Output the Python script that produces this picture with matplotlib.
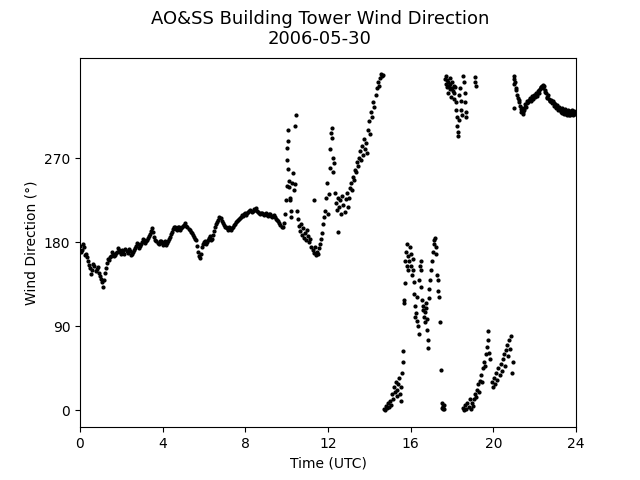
import numpy as np
import matplotlib
matplotlib.use("Agg")
import matplotlib.pyplot as plt

morning_hour = [0.0, 0.1, 0.2, 0.3, 0.4, 0.5, 0.6, 0.7, 0.8, 0.9,
                1.0, 1.1, 1.2, 1.3, 1.4, 1.5, 1.6, 1.7, 1.8, 1.9,
                2.0, 2.1, 2.2, 2.3, 2.4, 2.5, 2.6, 2.7, 2.8, 2.9,
                3.0, 3.1, 3.2, 3.3, 3.4, 3.5, 3.6, 3.7, 3.8, 3.9,
                4.0, 4.1, 4.2, 4.3, 4.4, 4.5, 4.6, 4.7, 4.8, 4.9,
                5.0, 5.1, 5.2, 5.3, 5.4, 5.5, 5.6, 5.7, 5.8, 5.9,
                6.0, 6.1, 6.2, 6.3, 6.4, 6.5, 6.6, 6.7, 6.8, 6.9,
                7.0, 7.1, 7.2, 7.3, 7.4, 7.5, 7.6, 7.7, 7.8, 7.9,
                8.0, 8.1, 8.2, 8.3, 8.4, 8.5, 8.6, 8.7, 8.8, 8.9,
                9.0, 9.1, 9.2, 9.3, 9.4, 9.5, 9.6, 9.7, 9.8]
morning_dir = [176, 172, 175, 168, 160, 153, 150, 155, 151, 147,
               141, 132, 147, 158, 161, 165, 168, 166, 170, 172,
               168, 171, 173, 169, 171, 168, 172, 176, 178, 176,
               180, 183, 181, 185, 189, 195, 186, 181, 178, 181,
               177, 182, 179, 184, 189, 194, 196, 193, 197, 195,
               198, 201, 196, 193, 190, 186, 183, 170, 163, 175,
               180, 178, 183, 187, 184, 192, 200, 204, 206, 201,
               197, 195, 196, 193, 197, 200, 203, 205, 207, 208,
               211, 212, 214, 213, 216, 217, 213, 210, 212, 209,
               211, 208, 210, 207, 209, 205, 203, 199, 196]

# in-between readings that give the morning trace its width
morning_half_hour = [0.05, 0.15, 0.25, 0.35, 0.45, 0.55, 0.65, 0.75, 0.85, 0.95,
                     1.05, 1.15, 1.25, 1.35, 1.45, 1.55, 1.65, 1.75, 1.85, 1.95,
                     2.05, 2.15, 2.25, 2.35, 2.45, 2.55, 2.65, 2.75, 2.85, 2.95,
                     3.05, 3.15, 3.25, 3.35, 3.45, 3.55, 3.65, 3.75, 3.85, 3.95,
                     4.05, 4.15, 4.25, 4.35, 4.45, 4.55, 4.65, 4.75, 4.85, 4.95,
                     5.05, 5.15, 5.25, 5.35, 5.45, 5.55, 5.65, 5.75, 5.85, 5.95,
                     6.05, 6.15, 6.25, 6.35, 6.45, 6.55, 6.65, 6.75, 6.85, 6.95,
                     7.05, 7.15, 7.25, 7.35, 7.45, 7.55, 7.65, 7.75, 7.85, 7.95,
                     8.05, 8.15, 8.25, 8.35, 8.45, 8.55, 8.65, 8.75, 8.85, 8.95,
                     9.05, 9.15, 9.25, 9.35, 9.45, 9.55, 9.65, 9.75]
morning_half_dir = [170, 178, 166, 164, 156, 146, 157, 149, 154, 144,
                    138, 140, 153, 162, 164, 170, 165, 169, 174, 170,
                    172, 168, 171, 173, 167, 170, 174, 179, 174, 178,
                    184, 179, 183, 187, 192, 191, 183, 179, 182, 179,
                    180, 177, 182, 186, 191, 197, 194, 196, 193, 197,
                    199, 198, 194, 191, 188, 184, 176, 165, 168, 178,
                    182, 180, 185, 183, 188, 197, 202, 207, 203, 199,
                    196, 193, 195, 195, 199, 202, 204, 206, 209, 210,
                    209, 213, 215, 214, 215, 214, 211, 212, 210, 210,
                    209, 210, 208, 208, 207, 204, 201, 197]

midday_hour = [9.85, 9.9, 9.95, 10.0, 10.0, 10.02, 10.05, 10.05, 10.08, 10.1,
               10.12, 10.15, 10.17, 10.2, 10.2, 10.25, 10.3, 10.35, 10.4, 10.45,
               10.42, 10.5, 10.55, 10.6, 10.65, 10.7, 10.75, 10.8, 10.85, 10.9,
               10.95, 11.0, 11.05, 11.1, 11.15, 11.2, 11.25, 11.3, 11.3, 11.35,
               11.4, 11.45, 11.5, 11.55, 11.6, 11.65, 11.7, 11.75, 11.8, 11.85,
               11.9, 11.95, 12.0, 12.05, 12.1, 12.12, 12.15, 12.18, 12.2, 12.22,
               12.25, 12.3, 12.35, 12.4, 12.45, 12.5, 12.5, 12.55, 12.6, 12.65,
               12.7, 12.75, 12.8, 12.85, 12.9, 12.95, 13.0, 13.05, 13.1, 13.15,
               13.2, 13.25, 13.3, 13.35, 13.4, 13.45, 13.5, 13.55, 13.6, 13.65,
               13.7, 13.75, 13.8, 13.85, 13.9, 13.95, 14.0, 14.05, 14.1, 14.15,
               14.2, 14.25, 14.3, 14.35, 14.4, 14.45, 14.5, 14.55, 14.6, 14.65]
midday_dir = [201, 210, 225, 240, 268, 281, 289, 300, 259, 246,
              239, 228, 225, 214, 207, 244, 254, 236, 305, 316,
              243, 214, 205, 198, 192, 200, 188, 195, 185, 190,
              183, 193, 187, 180, 184, 175, 172, 225, 169, 175,
              166, 170, 168, 174, 178, 184, 190, 200, 207, 214,
              228, 244, 210, 232, 260, 280, 297, 303, 292, 255,
              270, 265, 233, 222, 215, 228, 191, 218, 225, 210,
              230, 220, 213, 226, 233, 218, 228, 238, 244, 236,
              250, 247, 258, 255, 266, 262, 270, 278, 268, 283,
              274, 291, 280, 287, 276, 300, 310, 296, 320, 314,
              330, 325, 338, 345, 352, 348, 356, 360, 358, 359]

afternoon_hour = [14.7, 14.75, 14.8, 14.85, 14.9, 14.95, 15.0, 15.05, 15.1, 15.15,
                  15.2, 15.25, 15.3, 15.32, 15.35, 15.4, 15.45, 15.5, 15.52, 15.55,
                  15.6, 15.62, 15.65, 15.68, 15.7, 15.72, 15.75, 15.78, 15.8, 15.82,
                  15.85, 15.88, 15.9, 15.95, 16.0, 16.02, 16.05, 16.1, 16.12, 16.15,
                  16.18, 16.2, 16.22, 16.25, 16.3, 16.32, 16.35, 16.38, 16.4, 16.45,
                  16.48, 16.5, 16.52, 16.55, 16.6, 16.62, 16.65, 16.68, 16.7, 16.72,
                  16.75, 16.78, 16.8, 16.82, 16.85, 16.88, 16.9, 16.95, 17.0, 17.05,
                  17.1, 17.12, 17.15, 17.2, 17.22, 17.25, 17.28, 17.3, 17.32, 17.35,
                  17.4, 17.45, 17.5, 17.52, 17.55, 17.58, 17.6, 17.62]
afternoon_dir = [2, 0, 5, 3, 8, 4, 10, 6, 18, 12,
                 25, 20, 30, 15, 22, 28, 35, 18, 10, 25,
                 40, 52, 64, 115, 118, 136, 160, 170, 155, 178,
                 165, 150, 160, 175, 168, 155, 145, 162, 150, 138,
                 125, 112, 100, 104, 96, 122, 90, 82, 140, 155,
                 160, 150, 132, 118, 108, 112, 100, 95, 105, 115,
                 110, 98, 86, 75, 67, 120, 130, 140, 150, 160,
                 170, 178, 183, 185, 175, 168, 145, 140, 128, 122,
                 95, 43, 8, 3, 5, 1, 6, 2]

north_hour = [17.65, 17.7, 17.72, 17.75, 17.78, 17.8, 17.82, 17.85, 17.88, 17.9,
              17.92, 17.95, 18.0, 18.02, 18.05, 18.08, 18.1, 18.12, 18.15, 18.18,
              18.2, 18.22, 18.25, 18.27, 18.3, 18.32, 18.35, 18.4, 18.42, 18.45,
              18.48, 18.55, 18.6, 18.62, 18.65, 18.68, 18.7, 19.1, 19.12, 19.15]
north_dir = [355, 358, 350, 346, 354, 340, 352, 348, 356, 344,
             350, 336, 345, 352, 342, 348, 334, 340, 346, 330,
             322, 314, 305, 298, 294, 311, 338, 345, 332, 322,
             316, 358, 352, 340, 330, 320, 314, 357, 352, 348]

evening_low_hour = [18.55, 18.6, 18.65, 18.7, 18.75, 18.8, 18.85, 18.9, 18.95, 19.0,
                    19.05, 19.1, 19.15, 19.2, 19.25, 19.3, 19.35, 19.4, 19.45, 19.5,
                    19.55, 19.6, 19.65, 19.7, 19.72, 19.75, 19.8, 19.85, 19.95, 20.0,
                    20.05, 20.1, 20.15, 20.2, 20.25, 20.3, 20.35, 20.4, 20.45, 20.5,
                    20.55, 20.6, 20.65, 20.7, 20.75, 20.8, 20.85, 20.9, 20.95]
evening_low_dir = [3, 0, 6, 2, 8, 4, 12, 2, 8, 5,
                   12, 18, 14, 22, 28, 20, 32, 38, 30, 45,
                   52, 48, 60, 68, 75, 85, 62, 55, 30, 25,
                   35, 28, 40, 33, 45, 38, 50, 42, 55, 60,
                   48, 65, 70, 58, 75, 66, 80, 40, 52]

night_hour = [20.98, 21.0, 21.0, 21.02, 21.05, 21.08, 21.12, 21.15, 21.2, 21.25,
              21.3, 21.35, 21.4, 21.45, 21.5, 21.55, 21.6, 21.65, 21.7, 21.75,
              21.8, 21.85, 21.9, 21.95, 22.0, 22.05, 22.1, 22.15, 22.2, 22.25,
              22.3, 22.35, 22.4, 22.45, 22.5, 22.55, 22.6, 22.65, 22.7, 22.75,
              22.8, 22.85, 22.9, 22.95, 23.0, 23.05, 23.1, 23.15, 23.2, 23.25,
              23.3, 23.35, 23.4, 23.45, 23.5, 23.55, 23.6, 23.65, 23.7, 23.75,
              23.8, 23.85, 23.9, 23.95, 24.0,
              21.22, 21.32, 21.42, 21.52, 21.62, 21.72, 21.82, 21.92, 22.02, 22.12,
              22.22, 22.32, 22.42, 22.52, 22.62, 22.72, 22.82, 22.92, 23.02, 23.12,
              23.22, 23.32, 23.42, 23.52, 23.62, 23.72, 23.82, 23.92]
night_dir = [358, 355, 324, 350, 352, 345, 343, 338, 335, 330,
             326, 320, 324, 318, 322, 328, 325, 332, 330, 335,
             333, 337, 334, 338, 336, 340, 337, 342, 340, 344,
             346, 348, 345, 348, 343, 340, 336, 338, 334, 331,
             333, 329, 331, 326, 328, 324, 327, 322, 325, 320,
             324, 321, 318, 323, 320, 316, 320, 317, 321, 318,
             322, 316, 320, 318, 320,
             333, 323, 320, 325, 329, 333, 331, 336, 338, 339,
             343, 347, 349, 341, 335, 332, 330, 329, 325, 324,
             322, 319, 321, 318, 322, 316, 319, 321]

hours = np.concatenate([morning_hour, morning_half_hour, midday_hour,
                        afternoon_hour, north_hour, evening_low_hour, night_hour])
direction = np.concatenate([morning_dir, morning_half_dir, midday_dir,
                            afternoon_dir, north_dir, evening_low_dir, night_dir])

fig, ax = plt.subplots(figsize=(6.4, 4.8), dpi=100)
ax.plot(hours, direction, 'k.', markersize=4)

ax.set_xlim(0, 24)
ax.set_xticks([0, 4, 8, 12, 16, 20, 24])
ax.set_ylim(-18, 378)
ax.set_yticks([0, 90, 180, 270])
ax.set_xlabel('Time (UTC)')
ax.set_ylabel('Wind Direction (\u00b0)')
fig.suptitle('AO&SS Building Tower Wind Direction\n2006-05-30', fontsize=13)

fig.savefig('out.png')
